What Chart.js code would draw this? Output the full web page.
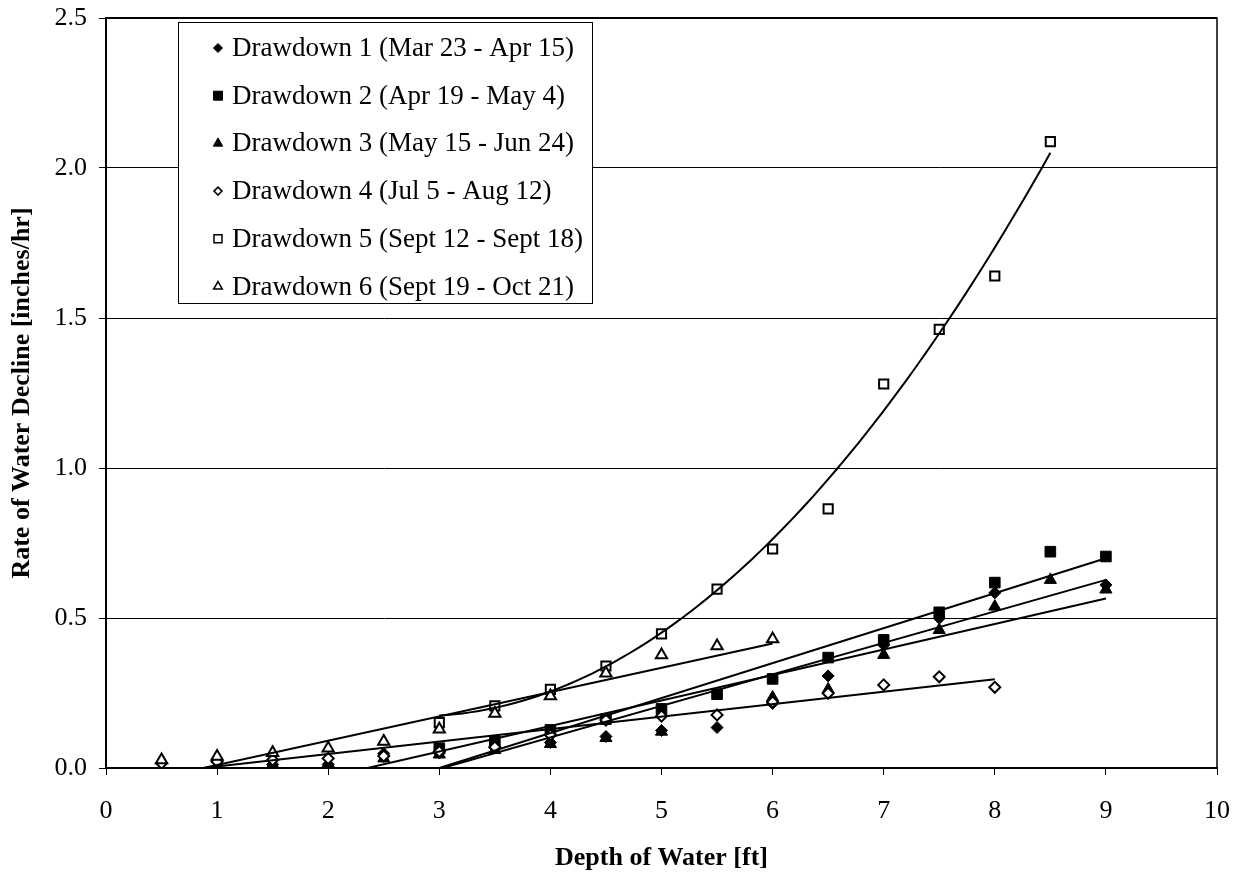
<!DOCTYPE html>
<html>
<head>
<meta charset="utf-8">
<title>Rate of Water Decline</title>
<script src="https://cdn.jsdelivr.net/npm/chart.js@4.4.1/dist/chart.umd.min.js"></script>
<style>
  html, body { margin: 0; padding: 0; background: #fff; }
</style>
</head>
<body>
<canvas id="decline" width="1250" height="874"></canvas>
<script>
// depth of water [ft] vs rate of decline [inches/hr], one pair of arrays per drawdown
const dd1Depth = [1.5, 2, 2.5, 3, 3.5, 4, 4.5, 5, 5.5, 6, 6.5, 7, 7.5, 8, 9];
const dd1Rate  = [0.012, 0.012, 0.048, 0.05, 0.068, 0.085, 0.105, 0.125, 0.135, 0.215, 0.307, 0.41, 0.499, 0.584, 0.61];

const dd2Depth = [3, 3.5, 4, 4.5, 5, 5.5, 6, 6.5, 7, 7.5, 8, 8.5, 9];
const dd2Rate  = [0.066, 0.09, 0.127, 0.163, 0.197, 0.246, 0.297, 0.368, 0.427, 0.519, 0.618, 0.721, 0.705];

const dd3Depth = [1.5, 2, 2.5, 3, 3.5, 4, 4.5, 5, 6, 6.5, 7, 7.5, 8, 8.5, 9];
const dd3Rate  = [0.012, 0.015, 0.032, 0.045, 0.06, 0.08, 0.1, 0.121, 0.235, 0.262, 0.377, 0.46, 0.538, 0.627, 0.595];

const dd4Depth = [0.5, 1, 1.5, 2, 2.5, 3, 3.5, 4, 4.5, 5, 5.5, 6, 6.5, 7, 7.5, 8];
const dd4Rate  = [0.016, 0.021, 0.027, 0.032, 0.04, 0.055, 0.07, 0.11, 0.16, 0.173, 0.177, 0.22, 0.249, 0.277, 0.304, 0.269];

const dd5Depth = [3, 3.5, 4, 4.5, 5, 5.5, 6, 6.5, 7, 7.5, 8, 8.5];
const dd5Rate  = [0.151, 0.207, 0.262, 0.34, 0.447, 0.596, 0.73, 0.864, 1.28, 1.462, 1.64, 2.088];

const dd6Depth = [0.5, 1, 1.5, 2, 2.5, 3, 3.5, 4, 4.5, 5, 5.5, 6];
const dd6Rate  = [0.027, 0.038, 0.051, 0.066, 0.088, 0.129, 0.182, 0.24, 0.316, 0.377, 0.407, 0.43];

// trendline coefficients [c0, c1, c2] for rate = c0 + c1*d + c2*d^2
const dd1Trend = [-0.318, 0.105, 0];
const dd2Trend = [-0.3495, 0.1165, 0];
const dd3Trend = [-0.2, 0.085, 0];
const dd4Trend = [-0.0364, 0.0415, 0];
const dd5Trend = [0.631, -0.326, 0.058];
const dd6Trend = [-0.071, 0.081, 0];

const seriesNames = [
  'Drawdown 1 (Mar 23 - Apr 15)',
  'Drawdown 2 (Apr 19 - May 4)',
  'Drawdown 3 (May 15 - Jun 24)',
  'Drawdown 4 (Jul 5 - Aug 12)',
  'Drawdown 5 (Sept 12 - Sept 18)',
  'Drawdown 6 (Sept 19 - Oct 21)'
];

const yTicks = [0, 0.5, 1.0, 1.5, 2.0, 2.5];

const FONT = "'Liberation Serif', 'Times New Roman', serif";

// marker look for each drawdown
const markers = [
  { style: 'rectRot', r: 6, filled: true },
  { style: 'rect', r: 7.5, filled: true },
  { style: 'triangle', r: 7, filled: true },
  { style: 'rectRot', r: 5.5, filled: false },
  { style: 'rect', r: 6.5, filled: false },
  { style: 'triangle', r: 6.5, filled: false }
];

const depths = [dd1Depth, dd2Depth, dd3Depth, dd4Depth, dd5Depth, dd6Depth];
const rates = [dd1Rate, dd2Rate, dd3Rate, dd4Rate, dd5Rate, dd6Rate];
const trends = [dd1Trend, dd2Trend, dd3Trend, dd4Trend, dd5Trend, dd6Trend];

function toPoints(xs, ys) {
  return xs.map((x, i) => ({ x: x, y: ys[i] }));
}

// trend curve over the depth range of the series
function trendPoints(xs, c) {
  const lo = Math.min(...xs), hi = Math.max(...xs);
  const steps = c[2] === 0 ? 1 : 80;
  const pts = [];
  for (let i = 0; i <= steps; i++) {
    const x = lo + (hi - lo) * i / steps;
    pts.push({ x: x, y: c[0] + c[1] * x + c[2] * x * x });
  }
  return pts;
}

const datasets = [];
markers.forEach((m, i) => {
  datasets.push({
    label: seriesNames[i],
    data: toPoints(depths[i], rates[i]),
    showLine: false,
    pointStyle: m.style,
    pointRadius: m.r,
    pointBackgroundColor: m.filled ? '#000' : '#fff',
    pointBorderColor: '#000',
    pointBorderWidth: m.filled ? 1 : 2,
    order: 6 - i
  });
});
trends.forEach((c, i) => {
  datasets.push({
    label: 'trend ' + (i + 1),
    data: trendPoints(depths[i], c),
    showLine: true,
    pointRadius: 0,
    borderColor: '#000',
    borderWidth: 2,
    tension: 0,
    order: 0
  });
});

// small marker shapes for the key
function drawMark(ctx, m, x, y, r) {
  ctx.beginPath();
  if (m.style === 'rectRot') {
    ctx.moveTo(x, y - r); ctx.lineTo(x + r, y); ctx.lineTo(x, y + r); ctx.lineTo(x - r, y);
  } else if (m.style === 'rect') {
    ctx.rect(x - r, y - r, 2 * r, 2 * r);
  } else {
    const h = r * 0.866;
    ctx.moveTo(x, y - r); ctx.lineTo(x + h, y + r / 2); ctx.lineTo(x - h, y + r / 2);
  }
  ctx.closePath();
  ctx.fillStyle = m.filled ? '#000' : '#fff';
  ctx.fill();
  ctx.lineWidth = m.filled ? 1 : 1.5;
  ctx.strokeStyle = '#000';
  ctx.stroke();
}

const frameAndKey = {
  id: 'frameAndKey',
  afterDraw(chart) {
    const { ctx, chartArea: a } = chart;
    ctx.save();
    // plot area outline, heavier along the top
    ctx.strokeStyle = '#000';
    ctx.lineWidth = 1.5;
    ctx.strokeRect(a.left, a.top, a.right - a.left, a.bottom - a.top);
    ctx.lineWidth = 2;
    ctx.beginPath();
    ctx.moveTo(a.left, a.top);
    ctx.lineTo(a.right, a.top);
    ctx.stroke();

    // key box
    const bx = a.left + 72, by = a.top + 4, bw = 414, bh = 281;
    ctx.fillStyle = '#fff';
    ctx.fillRect(bx, by, bw, bh);
    ctx.lineWidth = 1;
    ctx.strokeRect(bx + 0.5, by + 0.5, bw, bh);

    ctx.font = '27px ' + FONT;
    ctx.textBaseline = 'middle';
    ctx.textAlign = 'left';
    const keySizes = [4.5, 4.5, 5.5, 4, 4, 5];
    seriesNames.forEach((name, i) => {
      const y = by + 26 + i * 47.7;
      drawMark(ctx, markers[i], bx + 40, y, keySizes[i]);
      ctx.fillStyle = '#000';
      ctx.fillText(name, bx + 54, y + 1);
    });
    ctx.restore();
  }
};

Chart.defaults.font.family = FONT;
Chart.defaults.color = '#000';

new Chart(document.getElementById('decline'), {
  type: 'scatter',
  data: { datasets: datasets },
  options: {
    responsive: false,
    animation: false,
    devicePixelRatio: 1,
    layout: { padding: { left: 0, right: 33, top: 18, bottom: 0 } },
    plugins: {
      legend: { display: false },
      tooltip: { enabled: false }
    },
    scales: {
      x: {
        type: 'linear',
        min: 0,
        max: 10,
        ticks: {
          stepSize: 1,
          maxRotation: 0,
          padding: 21,
          color: '#000',
          font: { size: 26 }
        },
        grid: { drawOnChartArea: false, drawTicks: true, tickLength: 7, tickColor: '#000' },
        border: { display: true, color: '#000', width: 2 },
        title: {
          display: true,
          text: 'Depth of Water [ft]',
          color: '#000',
          font: { size: 26, weight: 'bold', lineHeight: 1 },
          padding: { top: 0, bottom: 3 }
        },
        afterFit(s) {
          s.height = 106;
          s.paddingLeft = 0;
          s.paddingRight = 0;
        }
      },
      y: {
        type: 'linear',
        min: 0,
        max: 2.5,
        afterBuildTicks(s) { s.ticks = yTicks.map(v => ({ value: v })); },
        ticks: {
          padding: 12,
          color: '#000',
          font: { size: 26 },
          callback: v => v.toFixed(1)
        },
        grid: { color: '#000', lineWidth: 1, drawTicks: true, tickLength: 7, tickColor: '#000' },
        border: { display: true, color: '#000', width: 2 },
        title: {
          display: true,
          text: 'Rate of Water Decline [inches/hr]',
          color: '#000',
          font: { size: 26, weight: 'bold', lineHeight: 1 },
          padding: { top: 9, bottom: 0 }
        },
        afterFit(s) {
          s.width = 106;
          s.paddingTop = 0;
          s.paddingBottom = 0;
        }
      }
    }
  },
  plugins: [frameAndKey]
});
</script>
</body>
</html>
